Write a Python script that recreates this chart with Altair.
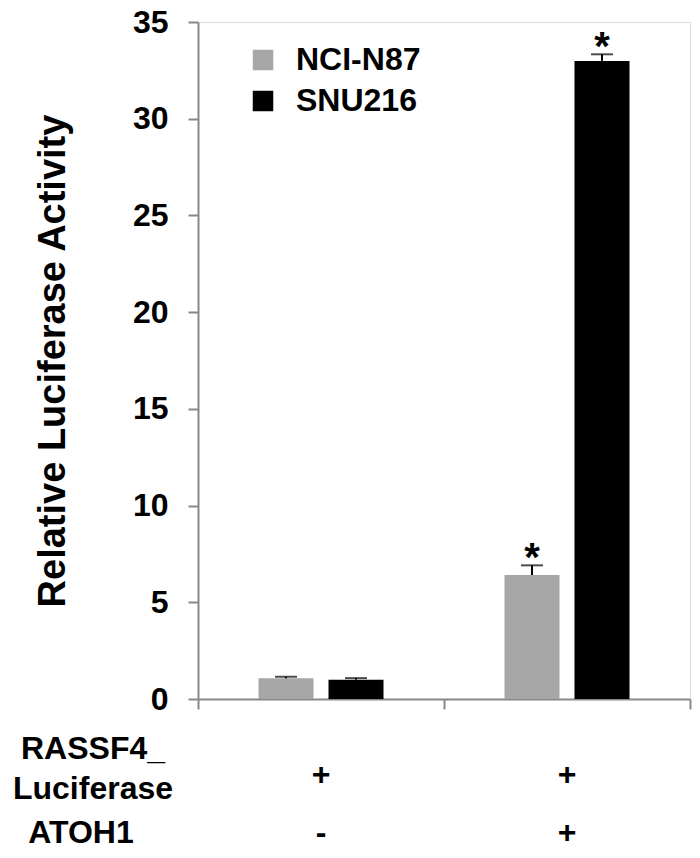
import altair as alt
import pandas as pd

groups = ["G1", "G2"]
series = ["NCI-N87", "SNU216"]
values_nci = [1.07, 6.41]
values_snu = [1.00, 32.99]
err_nci = [0.08, 0.50]
err_snu = [0.08, 0.34]
sig_nci = ["", "*"]
sig_snu = ["", "*"]

row1_label = "RASSF4_\nLuciferase"
row1_signs = ["+", "+"]
row2_label = "ATOH1"
row2_signs = ["-", "+"]

rows = []
for i, g in enumerate(groups):
    rows.append({"group": g, "series": series[0], "value": values_nci[i], "err": err_nci[i], "sig": sig_nci[i]})
    rows.append({"group": g, "series": series[1], "value": values_snu[i], "err": err_snu[i], "sig": sig_snu[i]})
df = pd.DataFrame(rows)

cond = pd.DataFrame({"group": groups, "r1": row1_signs, "r2": row2_signs})

FONT = "Liberation Sans"

xenc = alt.X("group:N", scale=alt.Scale(domain=groups, paddingInner=0, paddingOuter=0),
             axis=alt.Axis(title=None, labels=False, tickBand="extent", domainColor="#888888",
                           tickColor="#888888", tickSize=10, domainWidth=2, tickWidth=2))
xoff = alt.XOffset("series:N", scale=alt.Scale(domain=series, paddingInner=0.214, paddingOuter=0.864))
yscale = alt.Scale(domain=[0, 35], nice=False)

base = alt.Chart(df)

bars = base.mark_bar().encode(
    x=xenc,
    xOffset=xoff,
    y=alt.Y("value:Q", scale=yscale,
            axis=alt.Axis(title="Relative Luciferase Activity", values=[0, 5, 10, 15, 20, 25, 30, 35],
                          grid=False, domainColor="#888888", tickColor="#888888", tickSize=10,
                          domainWidth=2, tickWidth=2, labelFont=FONT, labelFontSize=32,
                          labelFontWeight="bold", labelColor="black", labelPadding=20,
                          titleFont=FONT, titleFontSize=38, titleFontWeight="bold",
                          titleColor="black", titlePadding=60)),
    color=alt.Color("series:N", scale=alt.Scale(domain=series, range=["#a6a6a6", "#000000"]),
                    legend=alt.Legend(title=None, orient="none", legendX=49, legendY=22,
                                      symbolType="square", symbolSize=420, symbolStrokeWidth=0,
                                      labelFont=FONT, labelFontSize=32, labelFontWeight="bold",
                                      labelColor="black", rowPadding=9, labelOffset=17)),
)

upper = base.transform_calculate(upper="datum.value + datum.err")

err_rule = upper.mark_rule(color="black", strokeWidth=2).encode(
    x=alt.X("group:N"), xOffset=alt.XOffset("series:N"),
    y=alt.Y("value:Q"), y2=alt.Y2("upper:Q"))

caps = upper.mark_tick(color="black", thickness=2, size=22, orient="horizontal").encode(
    x=alt.X("group:N"), xOffset=alt.XOffset("series:N"), y=alt.Y("upper:Q"))

stars = upper.mark_text(font=FONT, fontSize=40, fontWeight="bold", color="black",
                        baseline="bottom", dy=14).encode(
    x=alt.X("group:N"), xOffset=alt.XOffset("series:N"), y=alt.Y("upper:Q"), text="sig:N")

cbase = alt.Chart(cond)
r1 = cbase.mark_text(font=FONT, fontSize=32, fontWeight="bold", color="black", baseline="middle").encode(
    x=alt.X("group:N"), y=alt.value(753), text="r1:N")
r2 = cbase.mark_text(font=FONT, fontSize=32, fontWeight="bold", color="black", baseline="middle").encode(
    x=alt.X("group:N"), y=alt.value(811), text="r2:N")

lab = pd.DataFrame({"label": [row1_label, row2_label], "ly": [727, 811], "lx": [-105, -117]})
labels = alt.Chart(lab).mark_text(font=FONT, fontSize=32, fontWeight="bold", color="black",
                                  baseline="middle", align="center", lineBreak="\n",
                                  lineHeight=40).encode(
    x=alt.X("lx:Q", scale=None), y=alt.Y("ly:Q", scale=None), text="label:N")

chart = alt.layer(bars, err_rule, caps, stars, r1, r2, labels).properties(
    width=492, height=677,
    autosize=alt.AutoSizeParams(type="none"),
    padding={"left": 190, "top": 14, "right": 2, "bottom": 150},
).configure_view(stroke=None).configure(background="white")

chart.save("out.html", embed_options={"renderer": "svg", "actions": False})
